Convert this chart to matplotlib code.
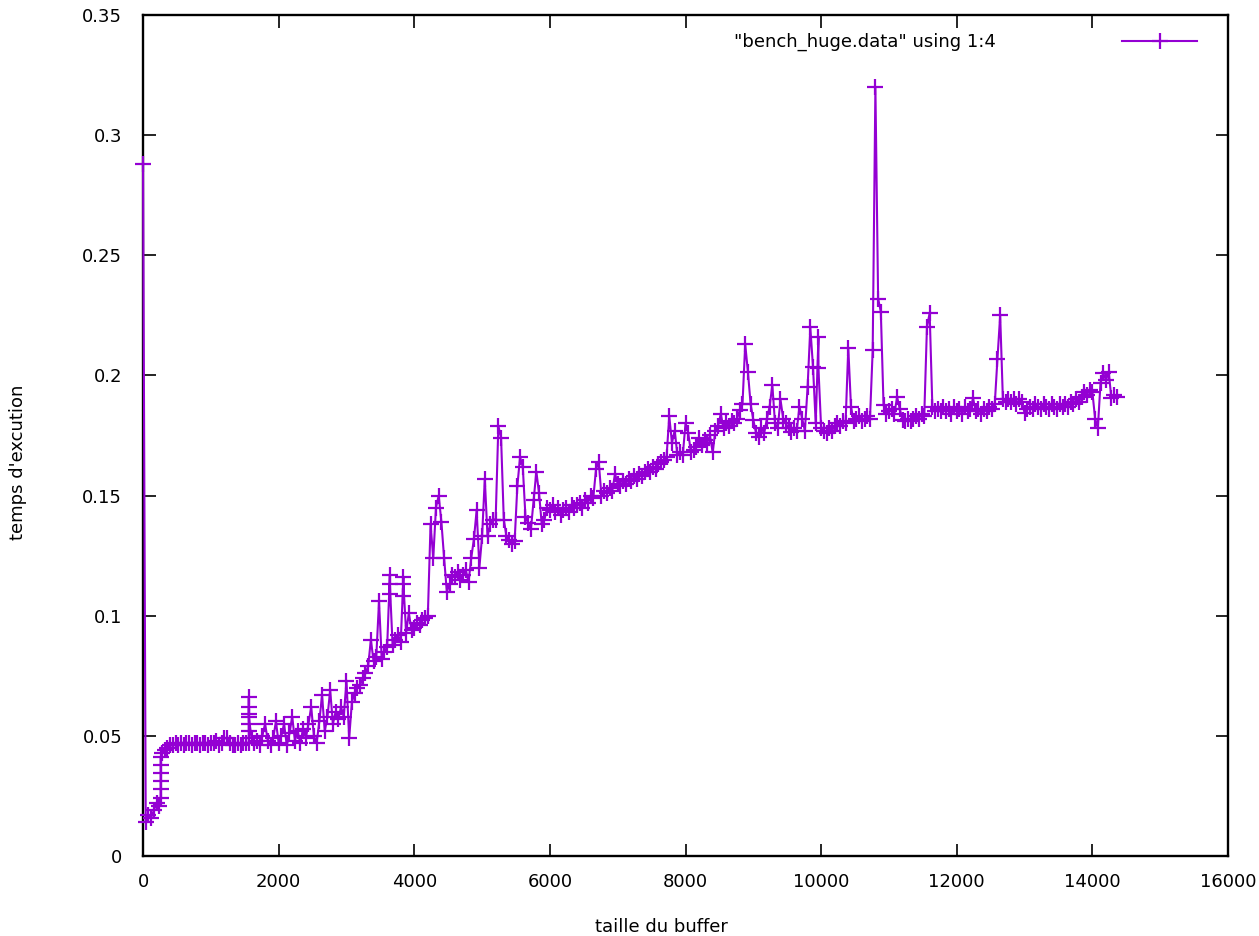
import numpy as np
import matplotlib
matplotlib.use('Agg')
import matplotlib.pyplot as plt

### temps d'execution, un point tous les 40 (taille du buffer)
step = 40
temps = [
  0.288, 0.014, 0.017, 0.016, 0.019, 0.022, 0.021, 0.043, 0.044, 0.045,
  0.046, 0.046, 0.047, 0.046, 0.047, 0.046, 0.047, 0.047, 0.046, 0.047,
  0.047, 0.046, 0.047, 0.047, 0.046, 0.047, 0.047, 0.048, 0.046, 0.047,
  0.049, 0.049, 0.047, 0.046, 0.046, 0.047, 0.046, 0.047, 0.047, 0.047,
  0.049, 0.047, 0.048, 0.046, 0.050, 0.055, 0.048, 0.046, 0.049, 0.056,
  0.047, 0.050, 0.055, 0.046, 0.051, 0.058, 0.048, 0.052, 0.047, 0.053,
  0.049, 0.055, 0.062, 0.050, 0.047, 0.056, 0.067, 0.052, 0.058, 0.069,
  0.055, 0.060, 0.057, 0.062, 0.058, 0.073, 0.049, 0.064, 0.068, 0.070,
  0.071, 0.074, 0.076, 0.079, 0.090, 0.081, 0.083, 0.106, 0.082, 0.085,
  0.087, 0.117, 0.088, 0.090, 0.092, 0.089, 0.116, 0.093, 0.101, 0.094,
  0.095, 0.097, 0.096, 0.098, 0.099, 0.100, 0.138, 0.124, 0.145, 0.150,
  0.139, 0.124, 0.110, 0.113, 0.117, 0.116, 0.118, 0.115, 0.117, 0.119,
  0.114, 0.124, 0.132, 0.144, 0.120, 0.133, 0.157, 0.133, 0.138, 0.140,
  0.140, 0.179, 0.174, 0.140, 0.133, 0.1315, 0.130, 0.131, 0.154, 0.166,
  0.162, 0.141, 0.1385, 0.136, 0.148, 0.160, 0.151, 0.138, 0.140, 0.145,
  0.144, 0.146, 0.143, 0.145, 0.142, 0.144, 0.145, 0.143, 0.146, 0.145,
  0.146, 0.147, 0.145, 0.148, 0.147, 0.150, 0.149, 0.161, 0.164, 0.150,
  0.152, 0.151, 0.153, 0.152, 0.159, 0.155, 0.154, 0.156, 0.155, 0.157,
  0.156, 0.158, 0.157, 0.159, 0.158, 0.160, 0.161, 0.160, 0.162, 0.161,
  0.163, 0.164, 0.165, 0.166, 0.183, 0.172, 0.177, 0.167, 0.168, 0.167,
  0.180, 0.176, 0.168, 0.169, 0.170, 0.174, 0.171, 0.173, 0.172, 0.175,
  0.168, 0.177, 0.179, 0.184, 0.178, 0.180, 0.179, 0.181, 0.180, 0.182,
  0.1855, 0.188, 0.213, 0.2015, 0.188, 0.1815, 0.176, 0.1745, 0.178, 0.176,
  0.182, 0.187, 0.196, 0.180, 0.178, 0.190, 0.182, 0.180, 0.178, 0.1765,
  0.178, 0.177, 0.187, 0.182, 0.177, 0.195, 0.220, 0.2035, 0.180, 0.216,
  0.178, 0.177, 0.176, 0.178, 0.177, 0.179, 0.180, 0.179, 0.181, 0.180,
  0.2115, 0.187, 0.181, 0.182, 0.183, 0.181, 0.182, 0.183, 0.182, 0.2105,
  0.320, 0.232, 0.2265, 0.1877, 0.184, 0.185, 0.186, 0.184, 0.191, 0.186,
  0.1815, 0.181, 0.182, 0.181, 0.182, 0.183, 0.182, 0.184, 0.183, 0.220,
  0.226, 0.187, 0.185, 0.186, 0.185, 0.187, 0.185, 0.186, 0.184, 0.187,
  0.185, 0.186, 0.184, 0.187, 0.185, 0.186, 0.1905, 0.185, 0.186, 0.184,
  0.186, 0.185, 0.187, 0.186, 0.188, 0.207, 0.225, 0.190, 0.189, 0.190,
  0.189, 0.190, 0.188, 0.190, 0.189, 0.1843, 0.186, 0.187, 0.186, 0.188,
  0.187, 0.186, 0.188, 0.187, 0.186, 0.188, 0.187, 0.186, 0.188, 0.187,
  0.188, 0.187, 0.189, 0.188, 0.190, 0.189, 0.191, 0.193, 0.192, 0.194,
  0.193, 0.182, 0.178, 0.197, 0.201, 0.198, 0.2015, 0.1905, 0.192, 0.191,
]
### mesures repetees a la meme taille (colonnes de points)
burst_x = [260, 260, 260, 260, 260, 260, 1560, 1560, 1560, 1560, 1560, 1560,
           3640, 3640, 3840, 3840, 9960]
burst_y = [0.024, 0.028, 0.031, 0.0345, 0.038, 0.041, 0.052, 0.055, 0.059, 0.062, 0.066, 0.058,
           0.109, 0.113, 0.108, 0.113, 0.203]

xticks = [0, 2000, 4000, 6000, 8000, 10000, 12000, 14000, 16000]
yticks = [0, 0.05, 0.1, 0.15, 0.2, 0.25, 0.3, 0.35]
ylabels = ['0', '0.05', '0.1', '0.15', '0.2', '0.25', '0.3', '0.35']

taille = np.arange(len(temps))*step
x = np.concatenate([taille, burst_x])
y = np.concatenate([temps, burst_y])
idx = np.argsort(x, kind='stable')
x = x[idx]; y = y[idx]

fs = 13
fig = plt.figure(figsize=(12.59, 9.36), dpi=100)
ax = fig.add_axes([0.1136, 0.0855, 0.8618, 0.8985])
ax.plot(x, y, color='#9400d3', lw=1.5, marker='+', ms=11, mew=1.6,
        label='"bench_huge.data" using 1:4', clip_on=False, zorder=3)
ax.set_xlim(0, 16000); ax.set_ylim(0, 0.35)
ax.set_xticks(xticks); ax.set_xticklabels([str(t) for t in xticks], fontsize=fs)
ax.set_yticks(yticks); ax.set_yticklabels(ylabels, fontsize=fs)
ax.tick_params(direction='in', top=True, right=True, length=9, width=1.2)
ax.tick_params(axis='y', pad=15)
ax.tick_params(axis='x', pad=12)
for s in ax.spines.values():
  s.set_linewidth(1.7)

ax.set_xlabel('taille du buffer', fontsize=fs, va='center')
ax.xaxis.set_label_coords(0.478, -0.0844)
ax.set_ylabel("temps d'excution", fontsize=fs, va='center', ha='center')
ax.yaxis.set_label_coords(-0.1152, 0.4685)

ax.legend(loc='upper right', bbox_to_anchor=(0.9714, 0.9786), frameon=False,
          markerfirst=False, fontsize=fs, handlelength=4.15, handletextpad=7.0,
          borderpad=0, borderaxespad=0, numpoints=1)

fig.savefig('out.png', dpi=100)
